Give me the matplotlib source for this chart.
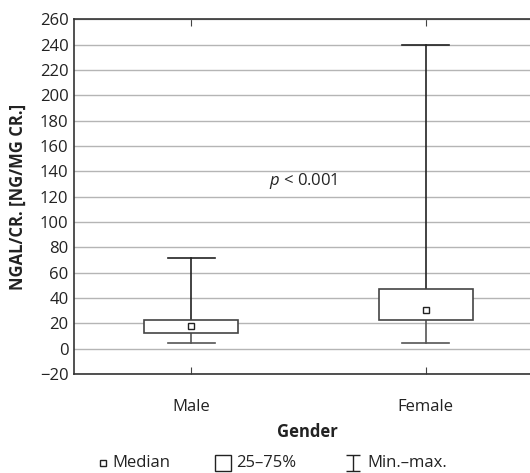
import matplotlib
matplotlib.use("Agg")
import matplotlib.pyplot as plt
from matplotlib.path import Path
from matplotlib.lines import Line2D
from matplotlib.patches import Rectangle

plt.rcParams['font.family'] = ['Open Sans', 'DejaVu Sans']
plt.rcParams['mathtext.fontset'] = 'custom'
plt.rcParams['mathtext.it'] = 'Open Sans:italic'
plt.rcParams['mathtext.rm'] = 'Open Sans'

categories = ["Male", "Female"]
mins = [4.7, 4.7]
q1 = [12.0, 22.4]
medians = [18.2, 30.4]
q3 = [22.4, 47.0]
maxs = [71.5, 240.0]
yticks = list(range(-20, 261, 20))
legend_labels = ["Median", "25\u201375%", "Min.\u2013max."]

FS = 12
fig = plt.figure(figsize=(5.3, 4.73), dpi=100)
W, H = 530, 473
left, right, top, bottom = 74, 543, 19.3, 374
ax = fig.add_axes([left / W, 1 - bottom / H, (right - left) / W, (bottom - top) / H])

xs = [1, 2]
bw = 0.40
cw = 0.20
for x, lo, a, m, b, hi in zip(xs, mins, q1, medians, q3, maxs):
    ax.plot([x, x], [b, hi], color='#222222', lw=1.2, zorder=3)
    ax.plot([x - cw / 2, x + cw / 2], [hi, hi], color='#222222', lw=1.2, zorder=3)
    ax.plot([x, x], [lo, a], color='#555555', lw=1.2, zorder=3)
    ax.plot([x - cw / 2, x + cw / 2], [lo, lo], color='#555555', lw=1.2, zorder=3)
    ax.add_patch(Rectangle((x - bw / 2, a), bw, b - a, facecolor='white',
                           edgecolor='#444444', lw=1.2, zorder=4))
    ax.plot([x], [m], marker='s', ms=4, mfc='white', mec='#222222', mew=1.0, zorder=5)

ax.set_xlim(0.5, 2.5)
ax.set_ylim(-20, 260)
ax.set_yticks(yticks)
ax.set_yticklabels([str(t).replace('-', '\u2212') for t in yticks], fontsize=FS, color='#222222')
ax.set_xticks(xs)
ax.set_xticklabels(categories, fontsize=FS, color='#222222')
ax.tick_params(axis='x', direction='in', length=5, top=True, pad=18, color='#444444')
ax.tick_params(axis='y', length=0, pad=4)
ax.yaxis.grid(True, color='#b5b5b5', lw=1.0)
ax.set_axisbelow(True)
for s in ax.spines.values():
    s.set_color('#333333')
    s.set_linewidth(1.2)

ax.set_xlabel("Gender", fontsize=FS, fontweight='bold', color='#222222')
ax.xaxis.set_label_coords((307 - left) / (right - left), -(423 - bottom) / (bottom - top))
ax.set_ylabel("NGAL/CR. [NG/MG CR.]", fontsize=FS, fontweight='bold', color='#222222')
ax.yaxis.set_label_coords(-(74 - 27) / (right - left), 0.5)

ax.text(1.48, 132, r"$p$ < 0.001", fontsize=FS, ha='center', va='center', color='#222222')

# legend drawn manually in figure pixel coordinates
ly = 1 - 463 / H
wpath = Path([(-0.9, -1), (0.9, -1), (0, -1), (0, 1), (-0.9, 1), (0.9, 1)],
             [Path.MOVETO, Path.LINETO, Path.MOVETO, Path.LINETO, Path.MOVETO, Path.LINETO])
fig.add_artist(Line2D([103 / W], [ly], transform=fig.transFigure, ls='none', marker='s', ms=4,
                      mfc='white', mec='#222222', mew=1.0))
fig.add_artist(Line2D([222.5 / W], [ly], transform=fig.transFigure, ls='none', marker='s', ms=11,
                      mfc='white', mec='#222222', mew=1.0))
fig.add_artist(Line2D([353 / W], [ly], transform=fig.transFigure, ls='none', marker=wpath, ms=11,
                      mfc='none', mec='#222222', mew=1.0))
for xp, lab in zip([112, 236, 367], legend_labels):
    fig.text(xp / W, ly, lab, fontsize=FS, ha='left', va='center', color='#222222')

fig.savefig("out.png", dpi=100)
